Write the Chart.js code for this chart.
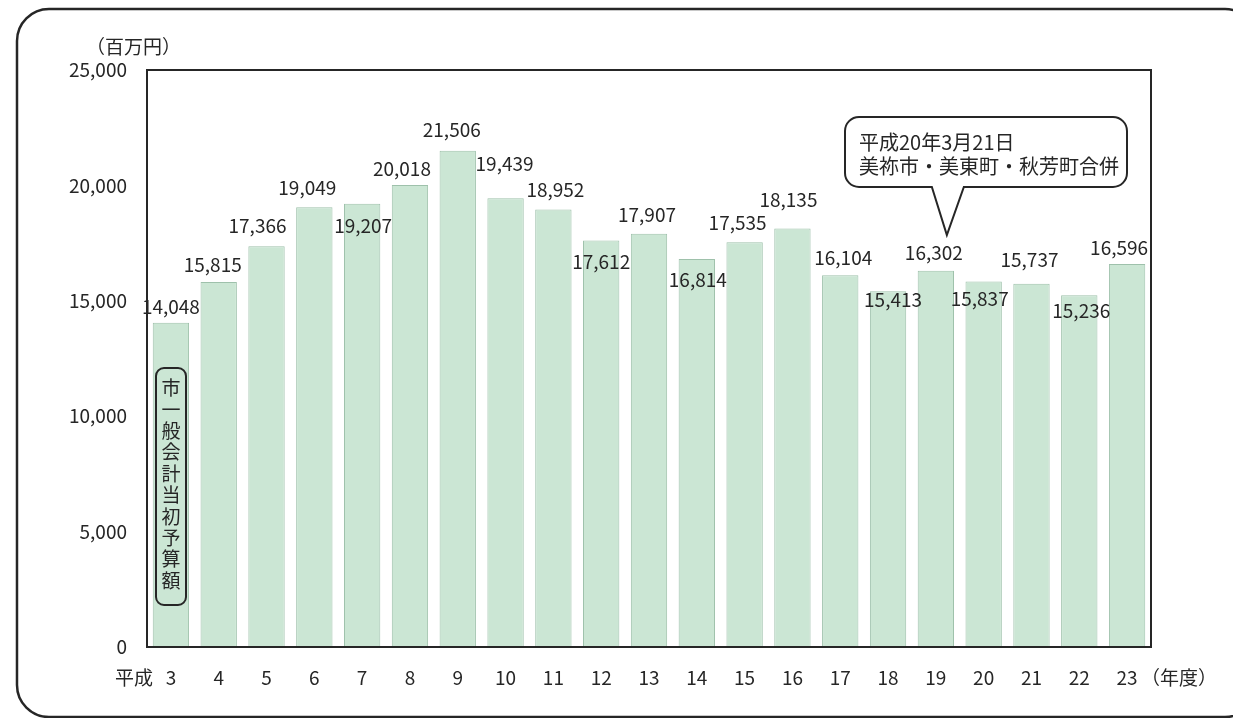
<!DOCTYPE html>
<html lang="ja">
<head>
<meta charset="utf-8">
<title>市一般会計当初予算額</title>
<script src="https://cdn.jsdelivr.net/npm/chart.js@4.4.1/dist/chart.umd.min.js"></script>
<style>
    html, body { margin: 0; padding: 0; background: #fff; }
    canvas { display: block; }
</style>
</head>
<body>
<canvas id="graphBudget" width="1233" height="718"></canvas>
<script>
// Datos del grafico
const years = ["3", "4", "5", "6", "7", "8", "9", "10", "11", "12", "13", "14", "15", "16", "17", "18", "19", "20", "21", "22", "23"];
const budget = [14048, 15815, 17366, 19049, 19207, 20018, 21506, 19439, 18952, 17612, 17907, 16814, 17535, 18135, 16104, 15413, 16302, 15837, 15737, 15236, 16596];
const yTicks = [0, 5000, 10000, 15000, 20000, 25000];
const unitLabel = "（百万円）";
const eraLabel = "平成";
const yearUnitLabel = "（年度）";
const seriesTitle = "市一般会計当初予算額";
const noteLines = ["平成20年3月21日", "美祢市・美東町・秋芳町合併"];

// Desplazamiento de las etiquetas respecto al tope de cada barra (px)
const labelShiftX = [0, -6, -9, -7, 1, -8, -6, -1, 2, 0, -2, 1, -7, -4, 3, 5, -2, -4, -2, 2, -8];
const labelShiftY = [-16, -17, -20, -20, 22, -16, -21, -35, -20, 21, -19, 21, -20, -29, -18, 9, -18, 17, -24, 15, -16];

const FONT = '"Noto Sans CJK JP", "Noto Sans", sans-serif';
const INK = "#262626";

function roundRect(ctx, x, y, w, h, r) {
    ctx.beginPath();
    ctx.moveTo(x + r, y);
    ctx.lineTo(x + w - r, y);
    ctx.arcTo(x + w, y, x + w, y + r, r);
    ctx.lineTo(x + w, y + h - r);
    ctx.arcTo(x + w, y + h, x + w - r, y + h, r);
    ctx.lineTo(x + r, y + h);
    ctx.arcTo(x, y + h, x, y + h - r, r);
    ctx.lineTo(x, y + r);
    ctx.arcTo(x, y, x + r, y, r);
    ctx.closePath();
}

// Marco exterior y textos fijos
const framePlugin = {
    id: "frame",
    beforeDraw(chart) {
        const ctx = chart.ctx;
        ctx.save();
        ctx.fillStyle = "#fff";
        ctx.fillRect(0, 0, chart.width, chart.height);
        ctx.strokeStyle = INK;
        ctx.lineWidth = 2.5;
        roundRect(ctx, 17, 9, 1240, 708, 32);
        ctx.stroke();
        ctx.restore();
    },
    afterDraw(chart) {
        const ctx = chart.ctx;
        ctx.save();
        ctx.fillStyle = INK;
        ctx.font = "19px " + FONT;
        ctx.textBaseline = "middle";
        ctx.textAlign = "left";
        ctx.fillText(unitLabel, 86, 47);

        ctx.font = "19px " + FONT;
        ctx.textAlign = "right";
        ctx.fillText(eraLabel, 153, 678);
        ctx.textAlign = "left";
        ctx.fillText(yearUnitLabel, 1141, 678);
        ctx.restore();
    }
};

// Caja del area de grafico, etiquetas de valores y anotaciones
const labelsPlugin = {
    id: "barLabels",
    afterDatasetsDraw(chart) {
        const ctx = chart.ctx;
        const area = chart.chartArea;
        ctx.save();

        // Caja del area de grafico
        ctx.strokeStyle = INK;
        ctx.lineWidth = 2;
        ctx.strokeRect(area.left, area.top, area.right - area.left, area.bottom - area.top);

        // Valores sobre las barras
        ctx.fillStyle = INK;
        ctx.font = "19px " + FONT;
        ctx.textAlign = "center";
        ctx.textBaseline = "middle";
        const meta = chart.getDatasetMeta(0);
        meta.data.forEach((bar, i) => {
            const txt = budget[i].toLocaleString("en-US");
            ctx.fillText(txt, bar.x + labelShiftX[i], bar.y + labelShiftY[i]);
        });

        // Caja vertical con el nombre de la serie
        ctx.lineWidth = 2;
        roundRect(ctx, 156, 368, 30, 237, 8);
        ctx.stroke();
        ctx.fillStyle = INK;
        ctx.font = "19px " + FONT;
        const chars = Array.from(seriesTitle);
        chars.forEach((c, i) => {
            ctx.fillText(c, 171, 388 + i * 21.4);
        });

        // Globo de la fusion (apunta a la barra de H19)
        const tipX = meta.data[16].x + 11;
        const bx = 845, by = 117, bw = 282, bh = 70, r = 14;
        ctx.beginPath();
        ctx.moveTo(bx + r, by);
        ctx.lineTo(bx + bw - r, by);
        ctx.arcTo(bx + bw, by, bx + bw, by + r, r);
        ctx.lineTo(bx + bw, by + bh - r);
        ctx.arcTo(bx + bw, by + bh, bx + bw - r, by + bh, r);
        ctx.lineTo(tipX + 17, by + bh);
        ctx.lineTo(tipX, 235);
        ctx.lineTo(tipX - 15, by + bh);
        ctx.lineTo(bx + r, by + bh);
        ctx.arcTo(bx, by + bh, bx, by + bh - r, r);
        ctx.lineTo(bx, by + r);
        ctx.arcTo(bx, by, bx + r, by, r);
        ctx.closePath();
        ctx.fillStyle = "#fff";
        ctx.fill();
        ctx.strokeStyle = INK;
        ctx.lineWidth = 2;
        ctx.stroke();
        ctx.fillStyle = INK;
        ctx.textAlign = "left";
        ctx.font = "20px " + FONT;
        ctx.fillText(noteLines[0], 859, 142);
        ctx.fillText(noteLines[1], 859, 166);

        ctx.restore();
    }
};

const ctxBudget = document.getElementById("graphBudget").getContext("2d");
const chartBudget = new Chart(ctxBudget, {
    type: "bar",
    data: {
        labels: years,
        datasets: [{
            label: seriesTitle,
            data: budget,
            backgroundColor: "#cbe6d4",
            borderColor: "#9ec1ab",
            borderWidth: 1,
            barPercentage: 0.76,
            categoryPercentage: 1.0
        }]
    },
    options: {
        responsive: false,
        animation: false,
        layout: {
            padding: { left: 17, top: 70, right: 82, bottom: 21 }
        },
        plugins: {
            legend: { display: false },
            tooltip: { enabled: false },
            title: { display: false }
        },
        scales: {
            x: {
                grid: { display: false, drawTicks: false },
                border: { display: false },
                ticks: {
                    color: INK,
                    font: { family: FONT, size: 19 },
                    padding: 19,
                    maxRotation: 0,
                    autoSkip: false
                },
                afterFit: s => { s.height = 50; }
            },
            y: {
                min: 0,
                max: 25000,
                grid: { display: false, drawTicks: false },
                border: { display: false },
                afterBuildTicks: s => { s.ticks = yTicks.map(v => ({ value: v })); },
                ticks: {
                    color: INK,
                    font: { family: FONT, size: 19 },
                    padding: 20,
                    callback: v => v.toLocaleString("en-US")
                },
                afterFit: s => { s.width = 130; }
            }
        }
    },
    plugins: [framePlugin, labelsPlugin]
});
</script>
</body>
</html>
